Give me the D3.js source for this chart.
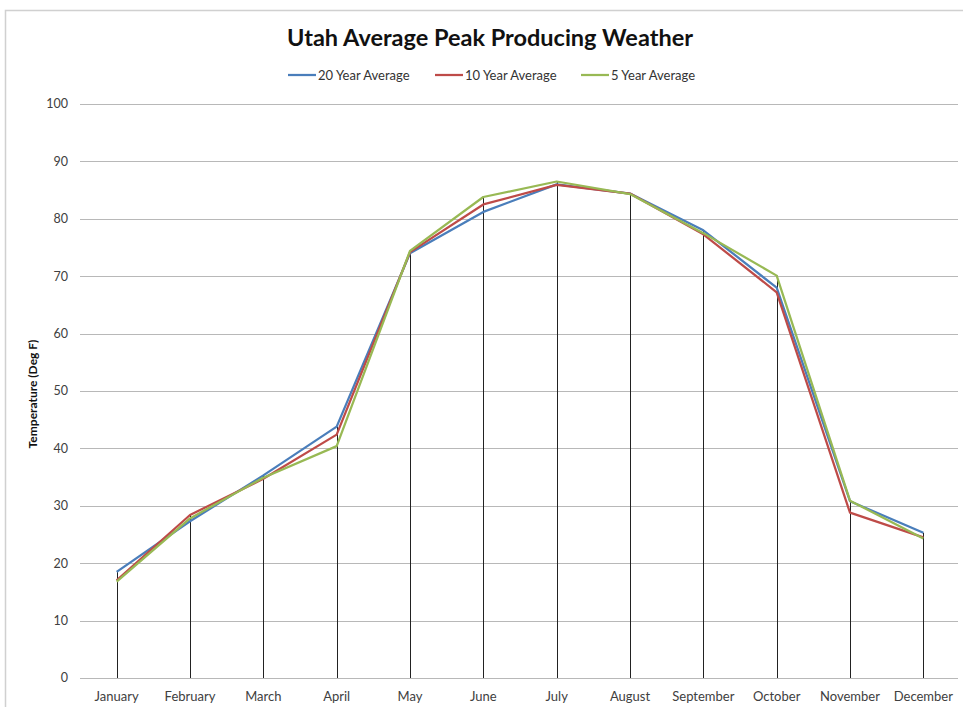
<!DOCTYPE html>
<html>
<head>
<meta charset="utf-8">
<script src="https://cdn.jsdelivr.net/npm/d3@7"></script>
<style>
  body { margin: 0; background: #fff; }
  svg { font-family: Lato, "Open Sans", sans-serif; }
</style>
</head>
<body>
<div id="chart"></div>
<script>
// data
var months = ["January", "February", "March", "April", "May", "June",
              "July", "August", "September", "October", "November", "December"];
var avg20 = [18.5, 27.3, 35.3, 43.8, 74.0, 81.2, 86.0, 84.4, 78.0, 68.0, 30.8, 25.3];
var avg10 = [17.0, 28.4, 34.7, 42.4, 74.2, 82.5, 85.9, 84.4, 77.3, 67.2, 28.8, 24.5];
var avg5  = [16.8, 27.8, 34.9, 40.4, 74.4, 83.8, 86.5, 84.3, 77.5, 70.1, 30.9, 24.3];
var seriesNames = ["20 Year Average", "10 Year Average", "5 Year Average"];
var seriesColors = ["#4a7ebb", "#be4b48", "#98b954"];
var yTicks = [0, 10, 20, 30, 40, 50, 60, 70, 80, 90, 100];

var series = [avg20, avg10, avg5];

var W = 963, H = 707;
var margin = {top: 104, right: 3, bottom: 29, left: 80},
    width = W - margin.left - margin.right,
    height = H - margin.top - margin.bottom;

var svg = d3.select("#chart")
  .append("svg")
    .attr("width", W)
    .attr("height", H);

// chart frame
svg.append("rect")
  .attr("x", 5.5).attr("y", 10.5)
  .attr("width", W).attr("height", H)
  .attr("fill", "none")
  .attr("stroke", "#d0d0d0")
  .attr("stroke-width", 1.5);

var g = svg.append("g")
  .attr("transform", "translate(" + margin.left + "," + margin.top + ")");

var x = d3.scaleBand()
  .domain(months)
  .range([0, width]);

var y = d3.scaleLinear()
  .domain([0, 100])
  .range([height, 0]);

// gridlines
g.append("g")
  .selectAll("line")
  .data(yTicks)
  .enter().append("line")
    .attr("x1", 0)
    .attr("x2", width - 2)
    .attr("y1", function(d) { return Math.round(y(d)) + 0.5; })
    .attr("y2", function(d) { return Math.round(y(d)) + 0.5; })
    .attr("stroke", "#b8b8b8")
    .attr("stroke-width", 1);

// y labels
g.append("g")
  .selectAll("text")
  .data(yTicks)
  .enter().append("text")
    .attr("x", -12)
    .attr("y", function(d) { return y(d); })
    .attr("dy", "0.35em")
    .attr("text-anchor", "end")
    .style("font-size", "12.5px")
    .style("fill", "#404040")
    .text(function(d) { return d; });

// x labels
g.append("g")
  .selectAll("text")
  .data(months)
  .enter().append("text")
    .attr("x", function(d) { return x(d) + x.bandwidth() / 2; })
    .attr("y", height + 23)
    .attr("text-anchor", "middle")
    .style("font-size", "13px")
    .style("fill", "#404040")
    .text(function(d) { return d; });

// drop lines
g.append("g")
  .selectAll("line")
  .data(months)
  .enter().append("line")
    .attr("x1", function(d) { return Math.round(x(d) + x.bandwidth() / 2) + 0.5; })
    .attr("x2", function(d) { return Math.round(x(d) + x.bandwidth() / 2) + 0.5; })
    .attr("y1", function(d, i) { return y(d3.max(series, function(s) { return s[i]; })); })
    .attr("y2", height)
    .attr("stroke", "#222")
    .attr("stroke-width", 1);

var line = d3.line()
  .x(function(d, i) { return x(months[i]) + x.bandwidth() / 2; })
  .y(function(d) { return y(d); });

series.forEach(function(s, k) {
  g.append("path")
    .datum(s)
    .attr("fill", "none")
    .attr("stroke", seriesColors[k])
    .attr("stroke-width", 2.25)
    .attr("stroke-linejoin", "round")
    .attr("d", line);
});

// title
svg.append("text")
  .attr("x", 490)
  .attr("y", 46)
  .attr("text-anchor", "middle")
  .style("font-size", "23.5px")
  .style("font-weight", "bold")
  .style("fill", "#111")
  .text("Utah Average Peak Producing Weather");

// y axis title
svg.append("text")
  .attr("transform", "translate(37,394) rotate(-90)")
  .attr("text-anchor", "middle")
  .style("font-size", "12px")
  .style("font-weight", "bold")
  .style("fill", "#111")
  .text("Temperature (Deg F)");

// legend
var legendX = [288, 435, 581];
seriesNames.forEach(function(name, k) {
  svg.append("line")
    .attr("x1", legendX[k]).attr("x2", legendX[k] + 28)
    .attr("y1", 75).attr("y2", 75)
    .attr("stroke", seriesColors[k])
    .attr("stroke-width", 2.25);
  svg.append("text")
    .attr("x", legendX[k] + 30)
    .attr("y", 75)
    .attr("dy", "0.35em")
    .style("font-size", "13px")
    .style("fill", "#333")
    .text(name);
});
</script>
</body>
</html>
